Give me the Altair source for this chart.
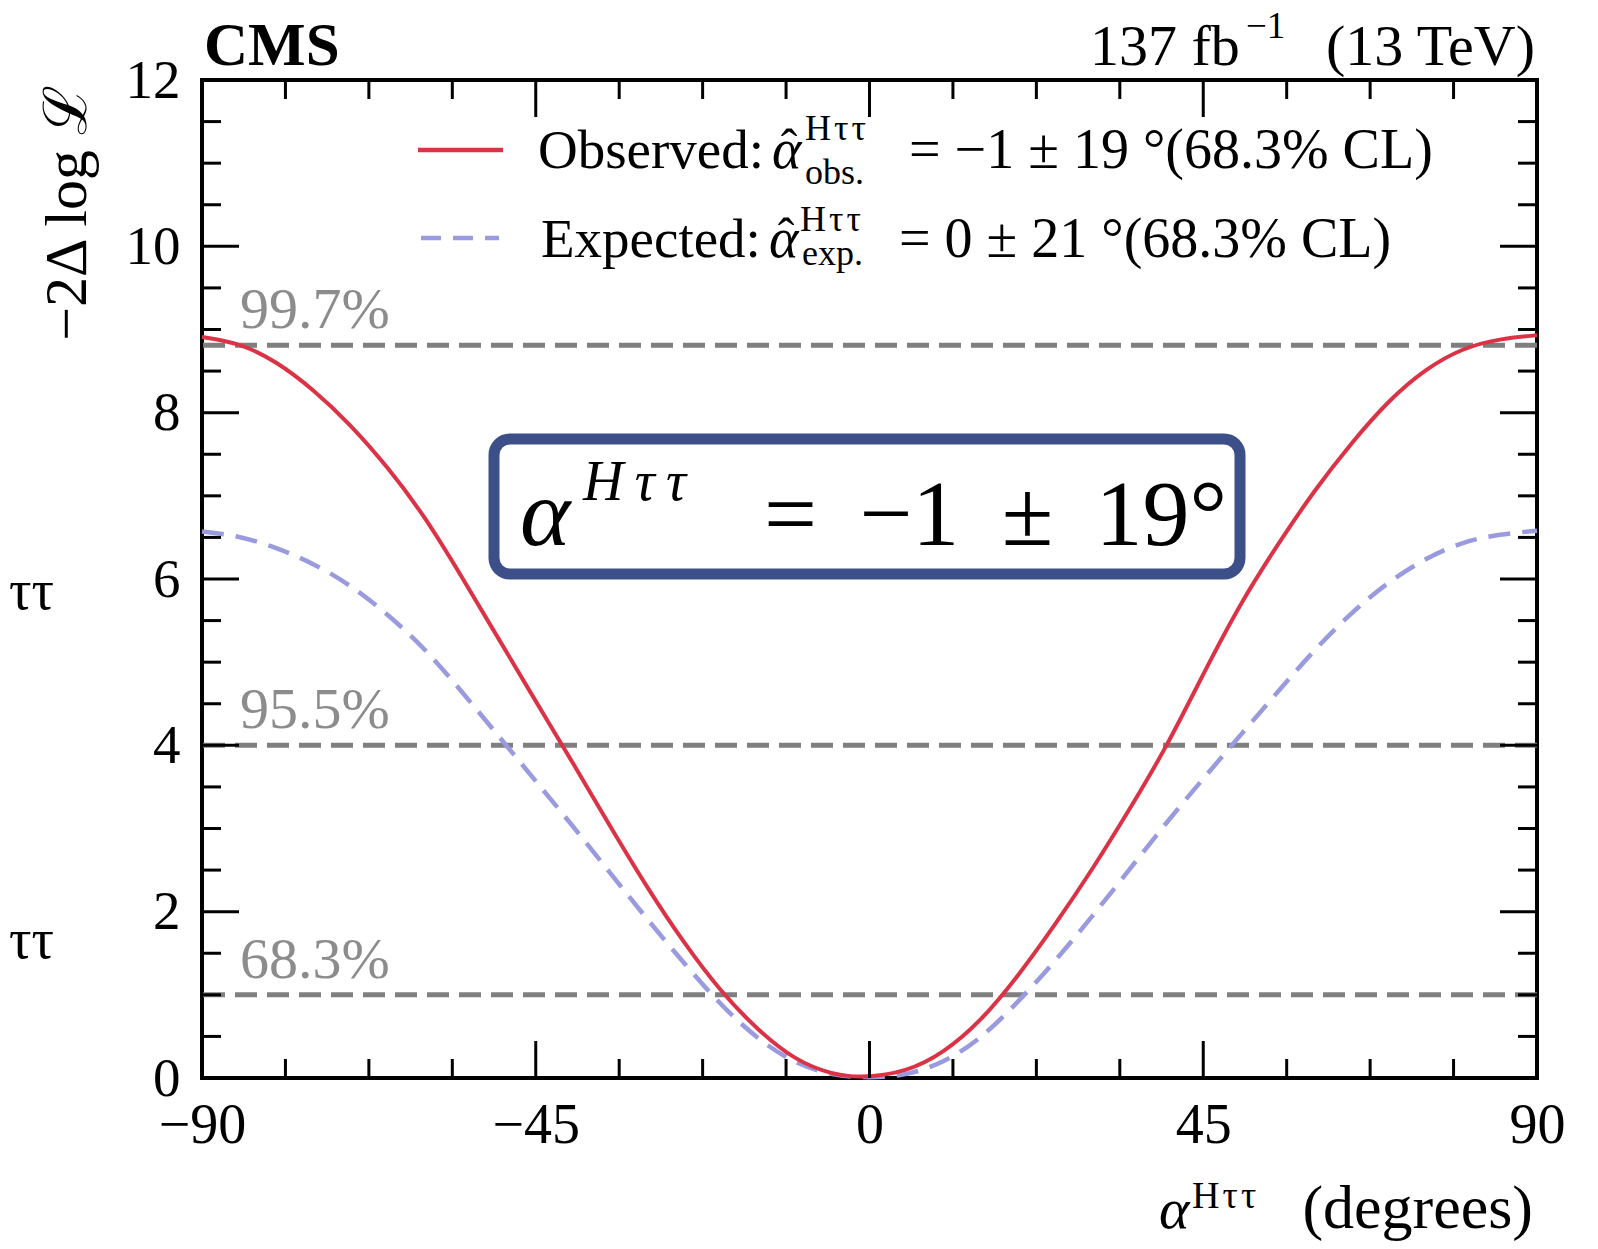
import altair as alt
import pandas as pd

# ---------------- data ----------------
obs_alpha = [-90, -85, -80, -75, -70, -65, -60, -55, -50, -45, -40, -35, -30, -25, -20, -15, -10, -5, -1,
             5, 10, 15, 20, 25, 30, 35, 40, 45, 50, 55, 60, 65, 70, 75, 80, 85, 90]
obs_nll = [8.91, 8.84, 8.62, 8.28, 7.86, 7.35, 6.76, 6.03, 5.28, 4.53, 3.79, 3.03, 2.29, 1.62, 1.03, 0.57, 0.21, 0.04, 0.0,
           0.07, 0.30, 0.68, 1.22, 1.84, 2.50, 3.22, 3.97, 4.86, 5.71, 6.41, 7.07, 7.64, 8.15, 8.53, 8.78, 8.89, 8.93]

exp_alpha = [-90, -85, -80, -75, -70, -65, -60, -55, -50, -45, -40, -35, -30, -25, -20, -15, -10, -5, 0,
             5, 10, 15, 20, 25, 30, 35, 40, 45, 50, 55, 60, 65, 70, 75, 80, 85, 90]
exp_nll = [6.57, 6.52, 6.38, 6.19, 5.93, 5.58, 5.17, 4.65, 4.11, 3.57, 3.03, 2.47, 1.91, 1.38, 0.87, 0.46, 0.17, 0.03, 0.0,
           0.03, 0.18, 0.47, 0.91, 1.40, 1.94, 2.50, 3.07, 3.60, 4.12, 4.64, 5.15, 5.60, 5.97, 6.25, 6.45, 6.54, 6.58]

cl_levels = [8.81, 4.0, 1.0]
cl_labels = ["99.7%", "95.5%", "68.3%"]

x_major = [-90, -45, 0, 45, 90]
x_minor = [-78.75, -67.5, -56.25, -33.75, -22.5, -11.25, 11.25, 22.5, 33.75, 56.25, 67.5, 78.75]
y_major = [0, 2, 4, 6, 8, 10, 12]
y_minor = [0.5, 1, 1.5, 2.5, 3, 3.5, 4.5, 5, 5.5, 6.5, 7, 7.5, 8.5, 9, 9.5, 10.5, 11, 11.5]

# ---------------- styling ----------------
W, H = 1335, 998
FONT = "Liberation Serif"
RED = "#dc3246"
BLUE = "#9a9ade"
GRAY = "#7f7f7f"
NAVY = "#3c4f88"
MAJ, MIN = 37, 19
TS = "\u2009"  # thin space
HS = "\u200a"  # hair space

xs = alt.Scale(domain=[-90, 90], nice=False, zero=False)
ys = alt.Scale(domain=[0, 12], nice=False, zero=False)

x_axis = alt.Axis(values=x_major, ticks=False, tickSize=0, domain=False, grid=False, title=None,
                  labelFont=FONT, labelFontSize=56, labelColor="black", labelPadding=20,
                  labelFlush=False, format="d")
y_axis = alt.Axis(values=y_major, ticks=False, tickSize=0, domain=False, grid=False, title=None,
                  labelFont=FONT, labelFontSize=55, labelColor="black", labelPadding=22, format="d")

obs_df = pd.DataFrame({"a": obs_alpha, "v": obs_nll})
exp_df = pd.DataFrame({"a": exp_alpha, "v": exp_nll})
cl_df = pd.DataFrame({"v": cl_levels, "lab": cl_labels})

# axis-carrying invisible layer
base = alt.Chart(obs_df).mark_point(opacity=0).encode(
    x=alt.X("a:Q", scale=xs, axis=x_axis),
    y=alt.Y("v:Q", scale=ys, axis=y_axis),
)

# inward ticks on all four sides
def xticks(vals, length):
    d = pd.DataFrame({"t": vals})
    bot = alt.Chart(d).mark_rule(color="black", strokeWidth=3).encode(
        x=alt.X("t:Q", scale=xs), y=alt.value(H), y2=alt.value(H - length))
    top = alt.Chart(d).mark_rule(color="black", strokeWidth=3).encode(
        x=alt.X("t:Q", scale=xs), y=alt.value(0), y2=alt.value(length))
    return [bot, top]

def yticks(vals, length):
    d = pd.DataFrame({"t": vals})
    left = alt.Chart(d).mark_rule(color="black", strokeWidth=3).encode(
        y=alt.Y("t:Q", scale=ys), x=alt.value(0), x2=alt.value(length))
    right = alt.Chart(d).mark_rule(color="black", strokeWidth=3).encode(
        y=alt.Y("t:Q", scale=ys), x=alt.value(W), x2=alt.value(W - length))
    return [left, right]

ticks = xticks(x_major, MAJ) + xticks(x_minor, MIN) + yticks(y_major, MAJ) + yticks(y_minor, MIN)

cl_lines = alt.Chart(cl_df).mark_rule(color=GRAY, strokeWidth=5, strokeDash=[22, 10]).encode(
    y=alt.Y("v:Q", scale=ys))
cl_text = alt.Chart(cl_df).mark_text(font=FONT, fontSize=58, color="#8c8c8c", align="left",
                                     baseline="alphabetic", dy=-17).encode(
    y=alt.Y("v:Q", scale=ys), x=alt.value(38), text="lab:N")

exp_line = alt.Chart(exp_df).mark_line(color=BLUE, strokeWidth=4.5, strokeDash=[22, 12],
                                       interpolate="basis").encode(
    x=alt.X("a:Q", scale=xs), y=alt.Y("v:Q", scale=ys))
obs_line = alt.Chart(obs_df).mark_line(color=RED, strokeWidth=4, interpolate="basis").encode(
    x=alt.X("a:Q", scale=xs), y=alt.Y("v:Q", scale=ys))


def txt(s, x, y, size=54, align="left", style="normal", weight="normal", color="black",
        angle=0, baseline="alphabetic"):
    return alt.Chart(pd.DataFrame({"s": [s]})).mark_text(
        font=FONT, fontSize=size, align=align, baseline=baseline, fontStyle=style,
        fontWeight=weight, color=color, angle=angle).encode(
        x=alt.value(x), y=alt.value(y), text="s:N")


# legend samples
leg_red = alt.Chart(pd.DataFrame({"k": [0]})).mark_rule(color=RED, strokeWidth=4.5).encode(
    x=alt.value(216), x2=alt.value(301), y=alt.value(70))
leg_blue = alt.Chart(pd.DataFrame({"k": [0]})).mark_rule(color=BLUE, strokeWidth=4.5,
                                                           strokeDash=[20, 12]).encode(
    x=alt.value(219), x2=alt.value(297), y=alt.value(158))

sup = "H" + HS + "\u03c4" + HS + "\u03c4"

texts = [
    txt("CMS", 2, -15, size=61, weight="bold"),
    txt("137 fb", 888, -15, size=58),
    txt("\u22121", 1044, -42, size=37),
    txt("(13 TeV)", 1333, -15, size=58, align="right"),
    # legend row 1
    txt("Observed:", 336, 88, size=55),
    txt("\u03b1", 570, 88, size=56, style="italic"),
    txt("\u02c6", 587, 84, size=50, align="center"),
    txt(sup, 603, 60, size=36),
    txt("obs.", 603, 104, size=36),
    txt("= \u22121 \u00b1 19 \u00b0(68.3% CL)", 707, 88, size=56),
    # legend row 2
    txt("Expected:", 339, 177, size=55),
    txt("\u03b1", 567, 177, size=56, style="italic"),
    txt("\u02c6", 584, 173, size=50, align="center"),
    txt(sup, 598, 151, size=36),
    txt("exp.", 600, 185, size=36),
    txt("= 0 \u00b1 21 \u00b0(68.3% CL)", 697, 177, size=56),
    # axis titles
    txt("\u22122\u0394 log \u2112", -134, 5, size=60, angle=270, align="right", baseline="middle"),
    txt("\u03b1", 957, 1148, size=58, style="italic"),
    txt(sup, 990, 1128, size=38),
    txt("(degrees)", 1331, 1148, size=62, align="right"),
    # cropped fragments at far left
    txt("\u03c4\u03c4", -148, 529, size=56, align="right"),
    txt("\u03c4\u03c4", -148, 878, size=56, align="right"),
]

box = alt.Chart(pd.DataFrame({"k": [0]})).mark_rect(
    fill="white", stroke=NAVY, strokeWidth=11, cornerRadius=16).encode(
    x=alt.value(292), x2=alt.value(1038), y=alt.value(359), y2=alt.value(494))
box_texts = [
    txt("\u03b1", 318, 465, size=96, style="italic"),
    txt("H" + TS + "\u03c4" + TS + "\u03c4", 381, 420, size=56, style="italic"),
    txt("= " + TS + "\u22121 " + TS + "\u00b1 " + TS + "19\u00b0", 562, 465, size=94),
]

chart = alt.layer(
    base, cl_lines, cl_text, exp_line, obs_line, *ticks, leg_red, leg_blue, box, *box_texts, *texts
).properties(
    width=W, height=H,
    autosize=alt.AutoSizeParams(type="none"),
    padding={"left": 194, "top": 72, "right": 40, "bottom": 163},
    background="white",
).configure_view(
    stroke="black", strokeWidth=4
)

chart.save("out.html", embed_options={"renderer": "svg", "actions": False})
